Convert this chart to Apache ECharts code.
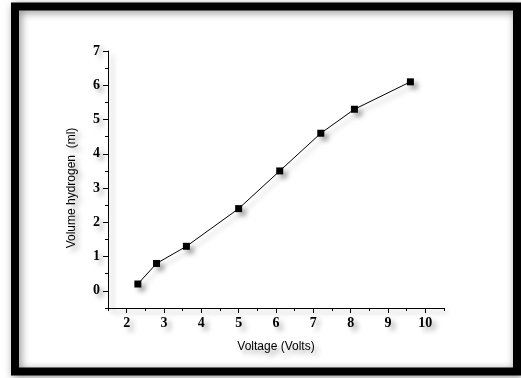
<!DOCTYPE html>
<html><head><meta charset="utf-8">
<script src="https://cdn.jsdelivr.net/npm/echarts@6/dist/echarts.min.js"></script>
<style>html,body{margin:0;padding:0;background:#fff}#c{width:521px;height:378px}</style>
</head><body><div id="c"></div>
<script>
const voltage = [2.3, 2.8, 3.6, 5.0, 6.1, 7.2, 8.1, 9.6];
const volumeH2 = [0.2, 0.8, 1.3, 2.4, 3.5, 4.6, 5.3, 6.1];
const xTicks = [2, 3, 4, 5, 6, 7, 8, 9, 10];
const xMinorTicks = [1.5, 2.5, 3.5, 4.5, 5.5, 6.5, 7.5, 8.5, 9.5, 10.5];
const yTicks = [0, 1, 2, 3, 4, 5, 6, 7];
const yMinorTicks = [-0.5, 0.5, 1.5, 2.5, 3.5, 4.5, 5.5, 6.5];
const xName = 'Voltage (Volts)';
const yName = 'Volume hydrogen  (ml)';

const chart = echarts.init(document.getElementById('c'), null, {renderer: 'canvas'});
const shadow = {shadowColor: 'rgba(0,0,0,0.35)', shadowBlur: 5, shadowOffsetX: 4, shadowOffsetY: 4};
const lblShadow = {textShadowColor: 'rgba(0,0,0,0.35)', textShadowBlur: 5, textShadowOffsetX: 4, textShadowOffsetY: 4};
const tickLbl = Object.assign({color: '#000', fontFamily: 'Liberation Serif', fontWeight: 'bold', fontSize: 14}, lblShadow);
const baseX = {type: 'value', min: 1.5, max: 10.5, splitLine: {show: false}};
const baseY = {type: 'value', min: -0.5, max: 7, splitLine: {show: false}};
chart.setOption({
  animation: false,
  backgroundColor: '#fff',
  graphic: [{
    type: 'rect', z: 100, silent: true,
    shape: {x: 15, y: 6.5, width: 502, height: 365},
    style: {fill: 'none', stroke: '#000', lineWidth: 8, shadowColor: 'rgba(0,0,0,0.45)', shadowBlur: 8, shadowOffsetX: 2, shadowOffsetY: 2}
  }],
  grid: {left: 108, right: 77, top: 51, bottom: 70, containLabel: false},
  xAxis: [Object.assign({}, baseX, {
    name: xName, nameLocation: 'middle', nameGap: 33,
    nameTextStyle: Object.assign({fontFamily: 'Liberation Sans', fontSize: 12, color: '#000'}, lblShadow),
    axisLine: {show: true, onZero: false, lineStyle: Object.assign({color: '#000', width: 1}, shadow)},
    axisTick: {show: true, inside: false, length: 5, customValues: xTicks, lineStyle: {color: '#000', width: 1}},
    axisLabel: Object.assign({margin: 8, customValues: xTicks}, tickLbl)
  }), Object.assign({}, baseX, {
    position: 'bottom',
    axisLine: {show: false, onZero: false},
    axisTick: {show: true, inside: false, length: 3, customValues: xMinorTicks, lineStyle: {color: '#000', width: 1}},
    axisLabel: {show: false}
  })],
  yAxis: [Object.assign({}, baseY, {
    name: yName, nameLocation: 'middle', nameGap: 30, nameRotate: 90,
    nameTextStyle: Object.assign({fontFamily: 'Liberation Sans', fontSize: 12, color: '#000', padding: [0, 0, 0, -17]}, lblShadow),
    axisLine: {show: true, onZero: false, lineStyle: Object.assign({color: '#000', width: 1}, shadow)},
    axisTick: {show: true, inside: false, length: 5, customValues: yTicks, lineStyle: {color: '#000', width: 1}},
    axisLabel: Object.assign({margin: 8, customValues: yTicks}, tickLbl)
  }), Object.assign({}, baseY, {
    position: 'left',
    axisLine: {show: false, onZero: false},
    axisTick: {show: true, inside: false, length: 3, customValues: yMinorTicks, lineStyle: {color: '#000', width: 1}},
    axisLabel: {show: false}
  })],
  series: [{
    type: 'line',
    data: voltage.map((v, i) => [v, volumeH2[i]]),
    symbol: 'rect', symbolSize: 7,
    lineStyle: Object.assign({color: '#000', width: 1}, shadow),
    itemStyle: Object.assign({color: '#000'}, shadow)
  }]
});
</script></body></html>
